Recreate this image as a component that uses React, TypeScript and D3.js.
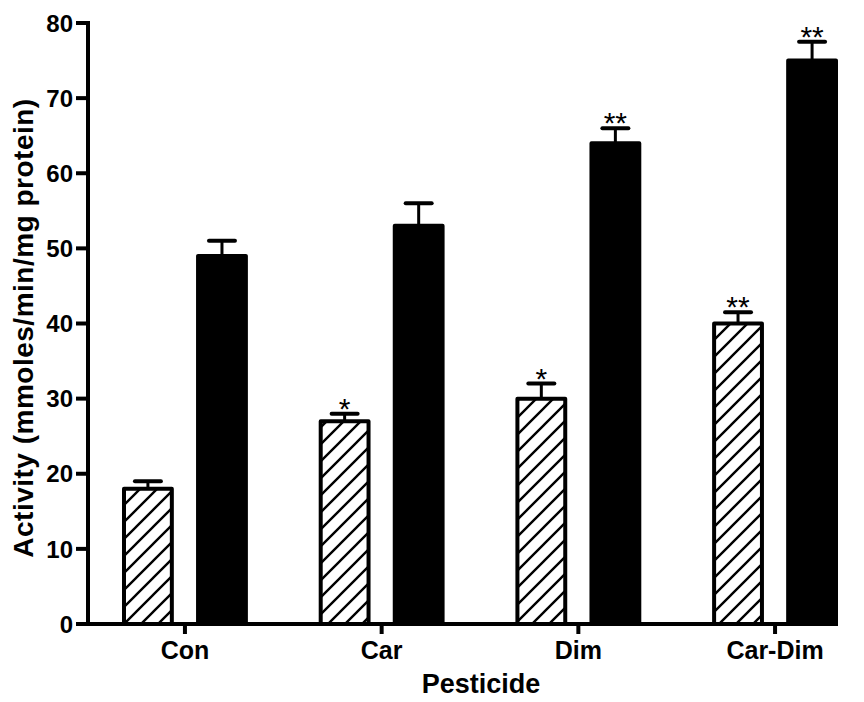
import React from "react";
import { scaleBand, scaleLinear } from "d3";

// values
const categories = ["Con", "Car", "Dim", "Car-Dim"];
const seriesKeys = ["hatched", "solid"];
const hatchedMeans = [18, 27, 30, 40];
const hatchedErrors = [1, 1, 2, 1.5];
const solidMeans = [49, 53, 64, 75];
const solidErrors = [2, 3, 2, 2.5];
const hatchedStars = ["", "*", "*", "**"];
const solidStars = ["", "", "**", "**"];
const yTicks = [0, 10, 20, 30, 40, 50, 60, 70, 80];

const W = 864;
const H = 702;
const axisLeft = 88;
const axisRight = 838;
const plotTop = 23;
const plotBottom = 624;
const font = "'Liberation Sans', Arial, sans-serif";

export default function App() {
  const x = scaleBand<string>()
    .domain(categories)
    .range([122, axisRight])
    .paddingInner(0.36)
    .paddingOuter(0);
  const xSub = scaleBand<string>()
    .domain(seriesKeys)
    .range([0, x.bandwidth()])
    .paddingInner(0.3)
    .paddingOuter(0);
  const y = scaleLinear().domain([0, 80]).range([plotBottom, plotTop]);

  const series = [
    { key: "hatched", means: hatchedMeans, errors: hatchedErrors, stars: hatchedStars },
    { key: "solid", means: solidMeans, errors: solidErrors, stars: solidStars },
  ];

  const bw = xSub.bandwidth();
  const capHalf = 13;
  const starSize = 30;

  return (
    <svg width={W} height={H} style={{ position: "absolute", left: 0, top: 0 }} fontFamily={font}>
      <defs>
        <pattern id="hatch" patternUnits="userSpaceOnUse" width={17} height={17}>
          <path d="M-2,19 L19,-2 M-4,4 L4,-4 M13,21 L21,13" stroke="#000" strokeWidth={2.4} />
        </pattern>
      </defs>

      {/* bars */}
      {series.map((s) =>
        categories.map((c, i) => {
          const bx = (x(c) ?? 0) + (xSub(s.key) ?? 0);
          const top = y(s.means[i]);
          const errTop = y(s.means[i] + s.errors[i]);
          const cx = bx + bw / 2;
          return (
            <g key={s.key + c}>
              <line x1={cx} x2={cx} y1={top} y2={errTop} stroke="#000" strokeWidth={3} />
              <line x1={cx - capHalf} x2={cx + capHalf} y1={errTop} y2={errTop}
                stroke="#000" strokeWidth={4} strokeLinecap="round" />
              <rect x={bx + 2} y={top} width={bw - 4} height={plotBottom - top}
                fill={s.key === "hatched" ? "url(#hatch)" : "#000"}
                stroke="#000" strokeWidth={4} strokeLinejoin="round" />
              {s.stars[i] && (
                <text x={cx} y={errTop + 5} textAnchor="middle" fontSize={starSize}>
                  {s.stars[i]}
                </text>
              )}
            </g>
          );
        })
      )}

      {/* y axis */}
      <line x1={axisLeft} x2={axisLeft} y1={plotTop - 2} y2={plotBottom + 2} stroke="#000" strokeWidth={4} />
      {yTicks.map((t) => (
        <g key={t} transform={`translate(0,${y(t)})`}>
          <line x1={axisLeft - 12} x2={axisLeft} stroke="#000" strokeWidth={4} />
          <text x={axisLeft - 15} dy="0.36em" textAnchor="end" fontSize={24} fontWeight="bold">
            {t}
          </text>
        </g>
      ))}

      {/* x axis */}
      <line x1={axisLeft - 2} x2={axisRight} y1={plotBottom} y2={plotBottom} stroke="#000" strokeWidth={4} />
      {categories.map((c) => {
        const cx = (x(c) ?? 0) + x.bandwidth() / 2;
        return (
          <g key={c} transform={`translate(${cx},0)`}>
            <line y1={plotBottom} y2={plotBottom + 10} stroke="#000" strokeWidth={4} />
            <text y={659} textAnchor="middle" fontSize={25} fontWeight="bold">
              {c}
            </text>
          </g>
        );
      })}

      <text x={481} y={693} textAnchor="middle" fontSize={27} fontWeight="bold">
        Pesticide
      </text>
      <text transform={`translate(33,328) rotate(-90)`}
        textAnchor="middle" fontSize={28} fontWeight="bold" letterSpacing={0.5}>
        Activity (mmoles/min/mg protein)
      </text>
    </svg>
  );
}
